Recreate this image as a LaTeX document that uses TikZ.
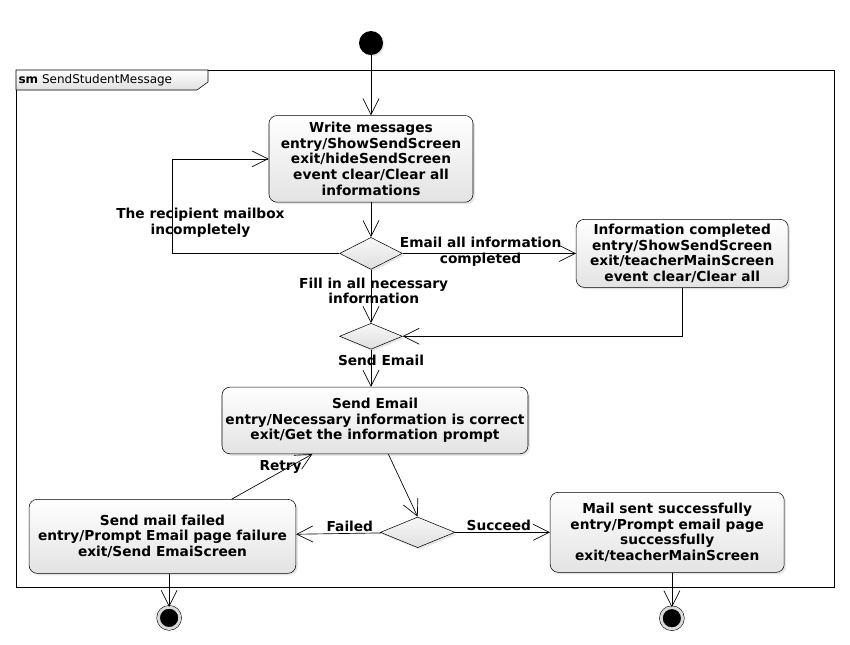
\documentclass[tikz,border=0pt]{standalone}
\usepackage{fontspec}
\setmainfont{DejaVu Sans}
\usetikzlibrary{positioning,shapes.geometric,arrows.meta,shadows}

\begin{document}
\begin{tikzpicture}[x=0.75pt, y=-0.75pt, every node/.style={inner sep=1pt}]
  \tikzset{
    state/.style={draw, rectangle, rounded corners=6pt, align=center, font=\fontsize{10.3}{11.8}\selectfont\bfseries, top color=white, bottom color=gray!22, drop shadow={shadow xshift=1.5pt, shadow yshift=-1.5pt, opacity=0.2}},
    decision/.style={draw, diamond, minimum width=47pt, inner sep=0pt, top color=gray!6, bottom color=gray!25, drop shadow={shadow xshift=1.5pt, shadow yshift=-1.5pt, opacity=0.2}},
    initial/.style={circle, fill=black, minimum size=18pt, inner sep=0pt, drop shadow={shadow xshift=1pt, shadow yshift=-1pt, opacity=0.2}},
    final/.style={circle, draw, fill=black, double=gray!30, double distance=2.2pt, minimum size=16pt, inner sep=0pt},
    trans/.style={-{Straight Barb[length=12pt, width=12pt]}, line width=0.5pt},
    guard/.style={font=\fontsize{10.3}{11.8}\selectfont\bfseries, align=center, inner sep=1pt}
  }

  \useasboundingbox (0,0) rectangle (850,644);
  \draw (16,70) rectangle (834,587);
  \draw[top color=white, bottom color=gray!25] (16,70) -- (208,70) -- (208,82) -- (197,90) -- (16,90) -- cycle;
  \node[anchor=west, font=\fontsize{9}{10}\selectfont] (frame) at (17,80) {\textbf{sm} SendStudentMessage};

  \node[initial] (init) at (371,43) {};
  \node[state, below=45pt of init, minimum width=153pt, minimum height=65pt] (write) {Write messages\\entry/ShowSendScreen\\exit/hideSendScreen\\event clear/Clear all\\informations};
  \node[decision, below=26pt of write, minimum height=24pt] (check) {};
  \node[state, right=130pt of check, minimum width=159pt, minimum height=51pt] (completed) {Information completed\\entry/ShowSendScreen\\exit/teacherMainScreen\\event clear/Clear all};
  \node[decision, below=40pt of check, minimum height=19.5pt] (merge) {};
  \node[state, below=28pt of merge, xshift=3pt, minimum width=229.5pt, minimum height=50pt] (send) {Send Email\\entry/Necessary information is correct\\exit/Get the information prompt};
  \node[decision, below=47pt of send, xshift=32pt, minimum width=56pt, minimum height=23pt] (result) {};
  \node[state, left=63pt of result, yshift=-3pt, minimum width=200pt, minimum height=55.5pt] (failed) {Send mail failed\\entry/Prompt Email page failure\\exit/Send EmaiScreen};
  \node[state, right=71pt of result, minimum width=175.5pt, minimum height=60pt] (succeed) {Mail sent successfully\\entry/Prompt email page\\successfully\\exit/teacherMainScreen};
  \node[final, below=25pt of failed, xshift=5pt] (endfailed) {};
  \node[final, below=26pt of succeed, xshift=3.5pt] (endsucceed) {};
  \coordinate (loop) at (172,157);

  \draw[trans] (init) -- (write);
  \draw[trans] (write) -- (check);
  \draw[trans] (check.west) -- (check.west -| loop) node[guard, pos=0.83, above=11pt] {The recipient mailbox\\incompletely} |- (write.west);
  \draw[trans] (check) -- (completed) node[guard, pos=0.45, yshift=1.2pt] {Email all information\\completed};
  \draw[trans] (check) -- (merge) node[guard, pos=0.4, xshift=2pt] {Fill in all necessary\\information};
  \draw[trans] (completed.south) |- (merge.east);
  \draw[trans] (merge) -- (send.north -| merge) node[guard, pos=0.3, xshift=7.5pt] {Send Email};
  \draw[trans] ([xshift=10pt]send.south) -- (result.north);
  \draw[trans] (result) -- (failed) node[guard, above, pos=0.37] {Failed};
  \draw[trans] (result) -- (succeed) node[guard, above, pos=0.46] {Succeed};
  \draw[trans] ([xshift=52pt]failed.north) -- ([xshift=-47pt]send.south) node[guard, pos=0.78, xshift=-10.5pt, yshift=-2pt] {Retry};
  \draw[trans] (endfailed.north |- failed.south) -- (endfailed);
  \draw[trans] (endsucceed.north |- succeed.south) -- (endsucceed);
\end{tikzpicture}
\end{document}
